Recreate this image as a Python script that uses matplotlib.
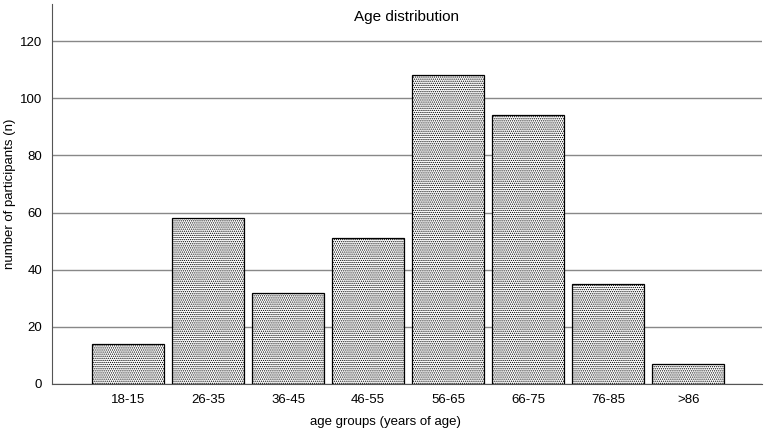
import matplotlib
matplotlib.use("Agg")
import matplotlib.pyplot as plt

plt.rcParams['font.family'] = ['Liberation Sans', 'DejaVu Sans']
plt.rcParams['hatch.linewidth'] = 0.6
plt.rcParams['hatch.color'] = '#333333'

groups = ["18-15", "26-35", "36-45", "46-55", "56-65", "66-75", "76-85", ">86"]
counts = [14, 58, 32, 51, 108, 94, 35, 7]
yticks = [0, 20, 40, 60, 80, 100, 120]

fig = plt.figure(figsize=(7.67, 4.32), dpi=100)
ax = fig.add_axes([52/767, 1 - 384/432, 710/767, 380/432])

x = range(len(groups))
ax.bar(x, counts, width=0.9, color='white', edgecolor='black', linewidth=0.9,
       hatch='........', zorder=3)

ax.set_xlim(-0.95, 7.92)
ax.set_ylim(0, 133)
ax.set_yticks(yticks)
ax.set_xticks(list(x))
ax.set_xticklabels(groups)
ax.yaxis.grid(True, color='#888888', linewidth=1, zorder=0)
ax.tick_params(length=0, labelsize=9.5, pad=7)
for s in ['top', 'right']:
    ax.spines[s].set_visible(False)
ax.spines['bottom'].set_color('#555555')
ax.spines['left'].set_color('#555555')

fig.text(385/767, 1 - 422/432, "age groups (years of age)", ha='center',
         va='center', fontsize=9.5)
fig.text(10/767, 1 - 194/432, "number of participants (n)", ha='center',
         va='center', rotation=90, fontsize=9.5)
ax.text(0.5, 0.985, "Age distribution", transform=ax.transAxes, ha='center',
        va='top', fontsize=11)

fig.savefig("out.png", dpi=100)
